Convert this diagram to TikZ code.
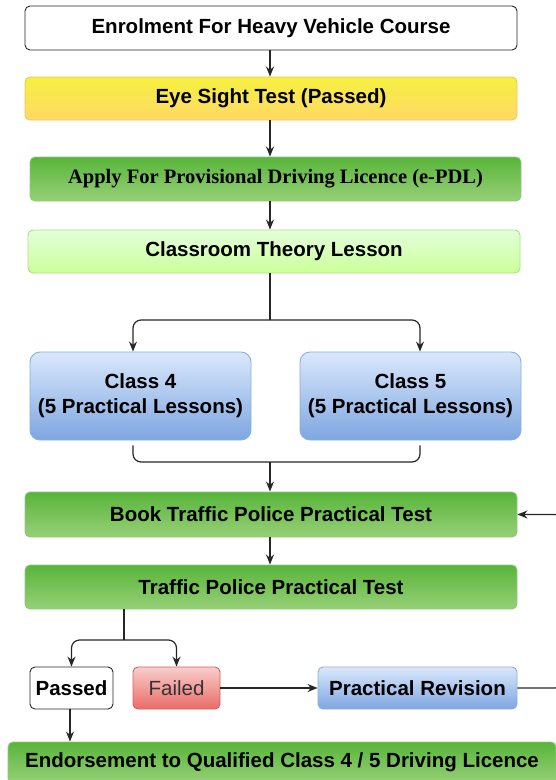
\documentclass[tikz,border=0pt]{standalone}
\usepackage{fontspec}
\setmainfont{Liberation Sans}
\newfontfamily\timesfont{Liberation Serif}
\usepackage{tikz}
\usetikzlibrary{arrows.meta,calc}
\definecolor{greentop}{HTML}{58B53A}
\definecolor{greenbot}{HTML}{97D077}
\definecolor{greenline}{HTML}{8FC97A}
\definecolor{yellowtop}{HTML}{F5F040}
\definecolor{yellowbot}{HTML}{FFD966}
\definecolor{yellowline}{HTML}{E8C760}
\definecolor{ltgreentop}{HTML}{E3FFDB}
\definecolor{ltgreenbot}{HTML}{CCFF99}
\definecolor{ltgreenline}{HTML}{A6E37D}
\definecolor{bluetop}{HTML}{DAE8FC}
\definecolor{bluebot}{HTML}{7EA6E0}
\definecolor{blueline}{HTML}{8CAEDC}
\definecolor{redtop}{HTML}{F8CECC}
\definecolor{redbot}{HTML}{EA6B66}
\definecolor{redline}{HTML}{C96460}
\tikzstyle{box}=[rectangle,rounded corners=5pt,line width=0.9pt,inner sep=2pt,align=center,font=\fontsize{20.5}{25}\selectfont\bfseries]
\tikzstyle{whitebox}=[box,draw=black!85,fill=white]
\tikzstyle{yellowbox}=[box,draw=yellowline,top color=yellowtop,bottom color=yellowbot]
\tikzstyle{greenbox}=[box,draw=greenline,top color=greentop,bottom color=greenbot]
\tikzstyle{lightgreenbox}=[box,draw=ltgreenline,top color=ltgreentop,bottom color=ltgreenbot]
\tikzstyle{bluebox}=[box,rounded corners=10pt,draw=blueline,top color=bluetop,bottom color=bluebot]
\tikzstyle{redbox}=[box,draw=redline,top color=redtop,bottom color=redbot]
\tikzstyle{edge}=[draw,line width=1.2pt,black!85,-{Stealth[length=10pt,width=8pt]}]
\tikzstyle{line}=[draw,line width=1.2pt,black!85]

\begin{document}
\begin{tikzpicture}[x=1pt,y=-1pt]

  \useasboundingbox (0,0) rectangle (556,780);
  \clip (0,0) rectangle (556,780);

  % main column
  \node[whitebox,minimum width=492,minimum height=44] (enrol) at (271,28) {Enrolment For Heavy Vehicle Course};
  \node[yellowbox,minimum width=492,minimum height=43] (eye) at (271,98.5) {Eye Sight Test (Passed)};
  \node[greenbox,minimum width=491,minimum height=44] (epdl) at (275.5,179) {\timesfont Apply For Provisional Driving Licence (e-PDL)};
  \node[lightgreenbox,minimum width=492,minimum height=43] (theory) at (274,251.5) {Classroom Theory Lesson};

  % classes
  \foreach \pos/\name/\label in {{(140.5,396)/class4/4}, {(410.5,396)/class5/5}}
    \node[bluebox,minimum width=221,minimum height=88] (\name) at \pos {Class \label\\(5 Practical Lessons)};

  \node[greenbox,minimum width=492,minimum height=45] (book) at (271,514.5) {Book Traffic Police Practical Test};
  \node[greenbox,minimum width=492,minimum height=44] (ptest) at (271,587) {Traffic Police Practical Test};

  % result row
  \node[whitebox,minimum width=83,minimum height=42] (passed) at (71.5,688) {Passed};
  \node[redbox,minimum width=87,minimum height=42,font=\fontsize{20.5}{25}\selectfont,text=black!80] (failed) at (176.5,688) {Failed};
  \node[bluebox,rounded corners=5pt,minimum width=199,minimum height=42] (revision) at (417.5,688) {Practical Revision};
  \node[greenbox,minimum width=548,minimum height=41] (endorse) at (282,762.5) {Endorsement to Qualified Class 4 / 5 Driving Licence};

  % split points
  \coordinate (split1) at (270,320);
  \coordinate (join1) at (270,462);
  \coordinate (split2) at (124,640);
  \coordinate (loop) at (563,600);

  % Edges
  \path[edge] (enrol.south -| 270,0) -- (eye.north -| 270,0);
  \path[edge] (eye.south -| 270,0) -- (epdl.north -| 270,0);
  \path[edge] (epdl.south -| 270,0) -- (theory.north -| 270,0);
  \path[line] (theory.south -| split1) -- (split1);
  \path[edge,rounded corners=8pt] (split1) -| ([xshift=-7.5pt]class4.north);
  \path[edge,rounded corners=8pt] (split1) -| ([xshift=9.5pt]class5.north);
  \path[line,rounded corners=8pt] ([xshift=-7.5pt,yshift=-5pt]class4.south) |- (join1) -| ([xshift=9.5pt,yshift=-5pt]class5.south);
  \path[edge] (join1) -- (book.north -| join1);
  \path[edge] (book.south -| 270,0) -- (ptest.north -| 270,0);
  \path[line] (ptest.south -| split2) -- (split2);
  \path[edge,rounded corners=8pt] (split2) -| (passed.north);
  \path[edge,rounded corners=8pt] (split2) -| (failed.north);
  \path[edge] (failed) -- (revision);
  \path[edge,rounded corners=8pt] (revision.east) -| (loop) |- (book.east);
  \path[edge] (passed.south -| 70,0) -- (endorse.north -| 70,0);

\end{tikzpicture}
\end{document}
